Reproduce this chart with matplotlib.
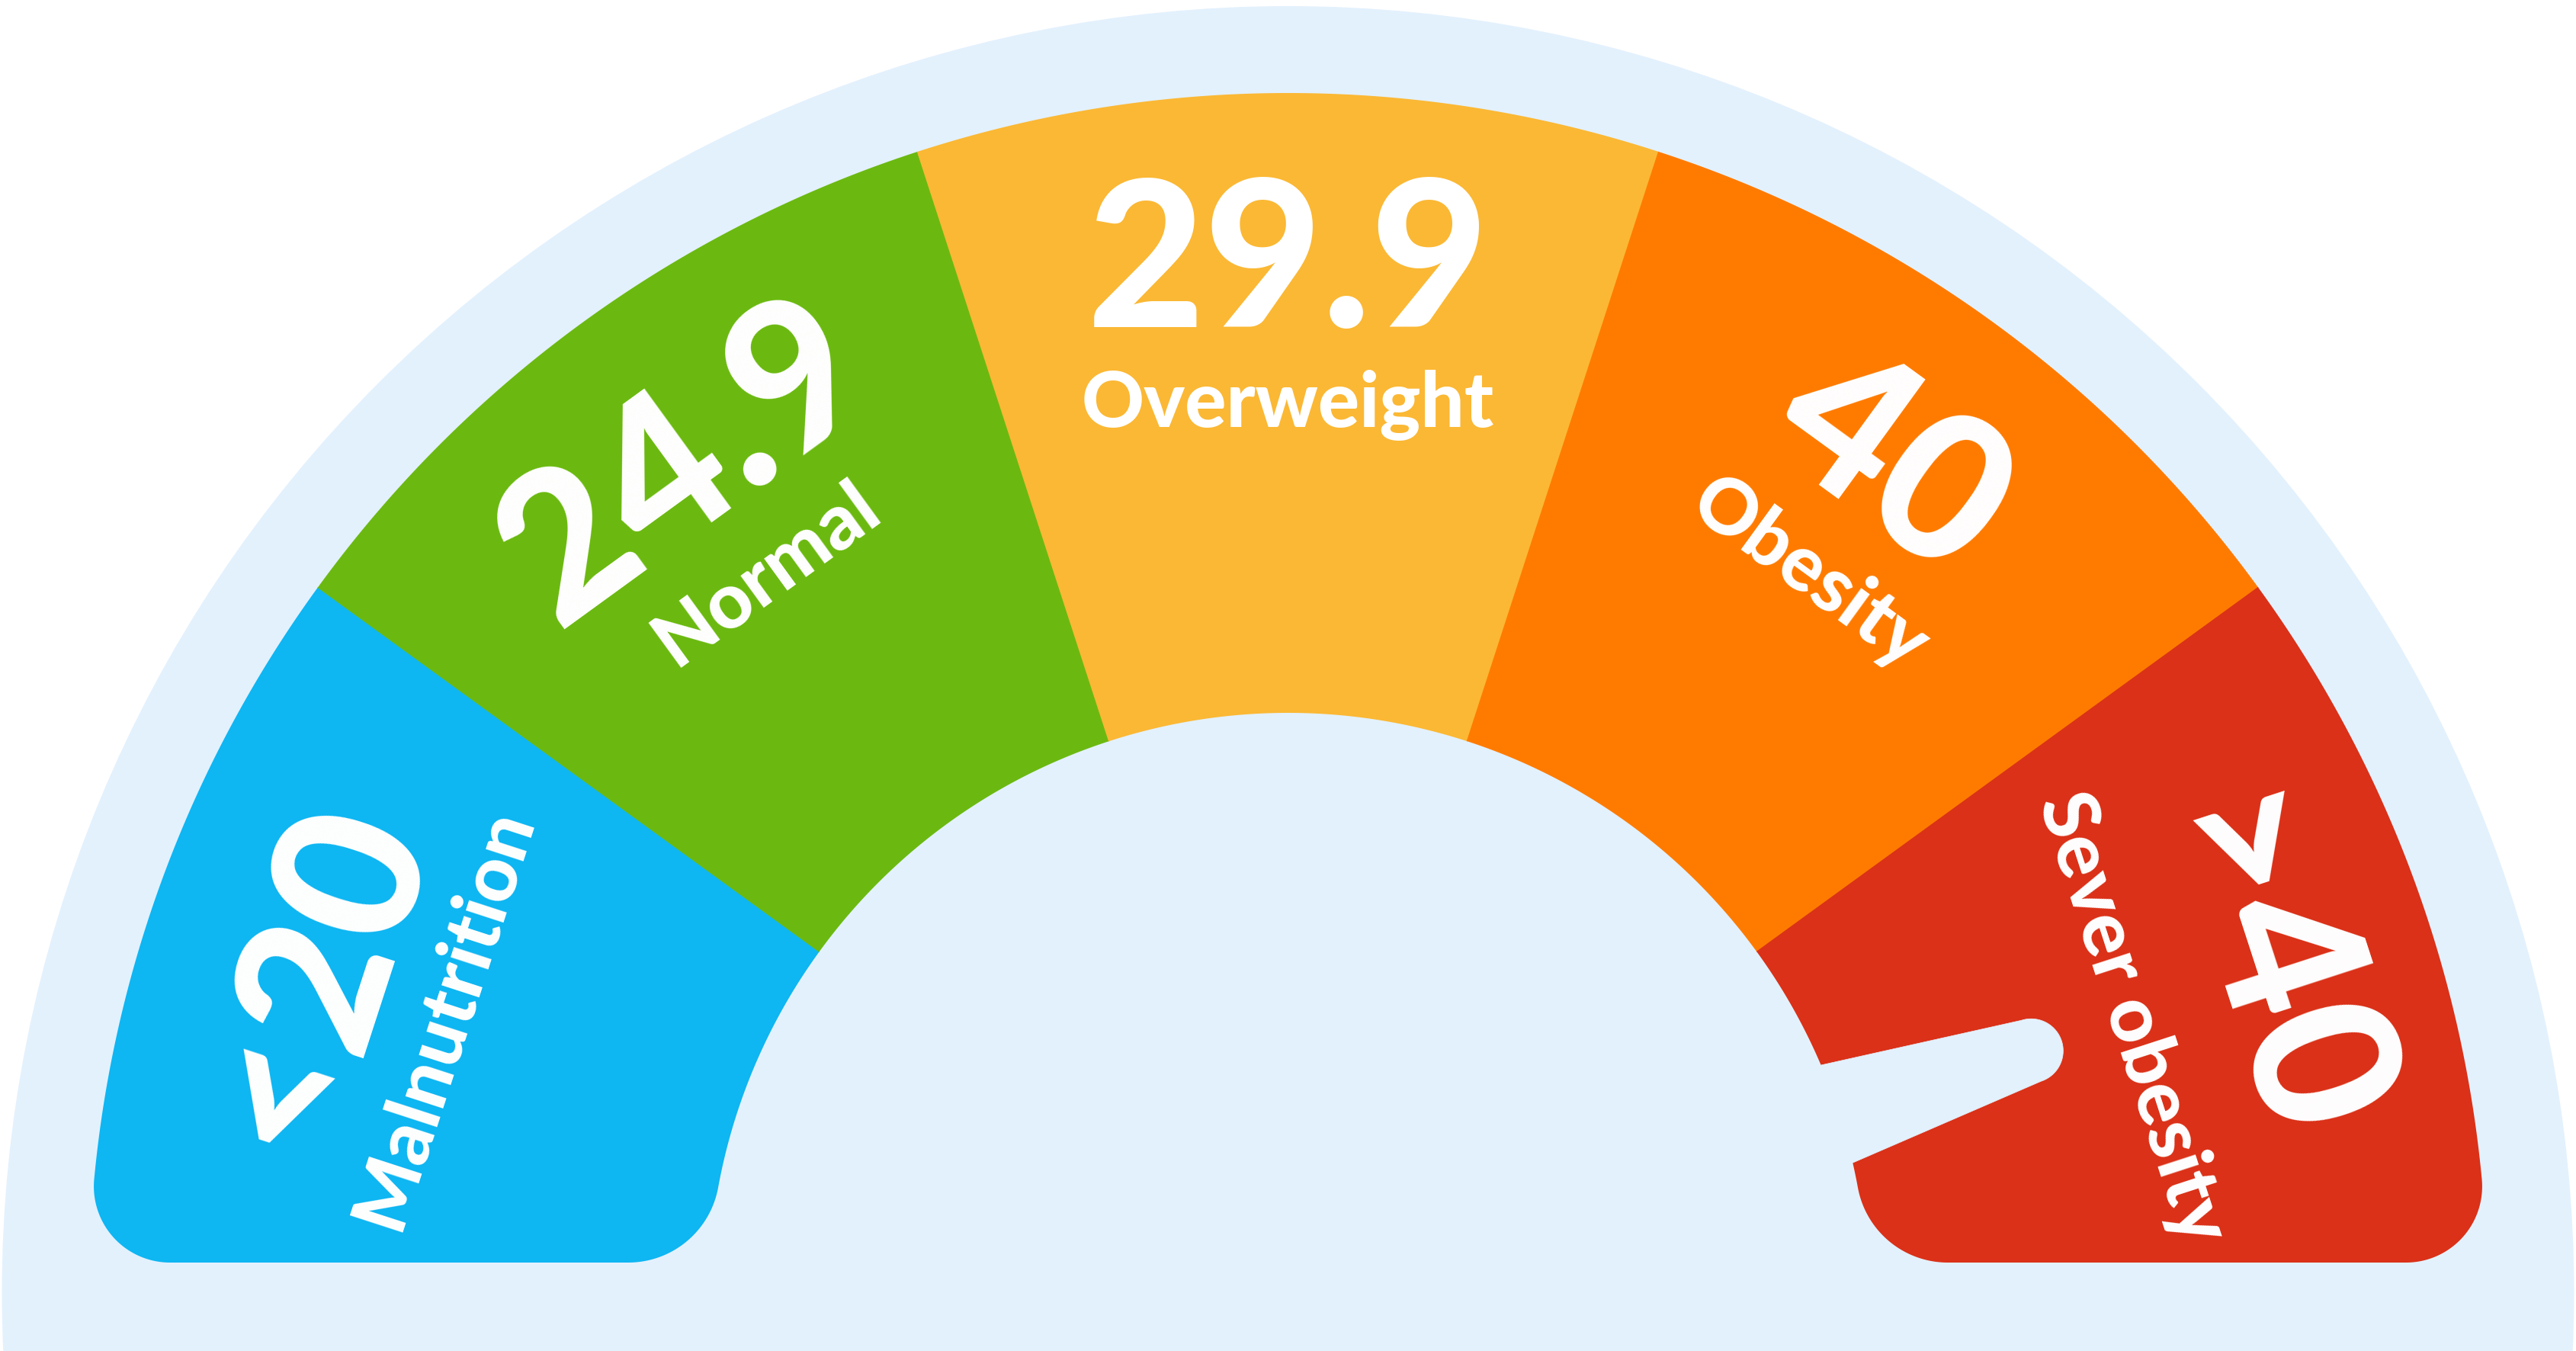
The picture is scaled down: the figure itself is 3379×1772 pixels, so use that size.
import numpy as np
import matplotlib
matplotlib.use("Agg")
import matplotlib.pyplot as plt
from matplotlib.patches import Wedge, PathPatch, Circle, Polygon
from matplotlib.path import Path

# ---------------- data ----------------
categories = ["Malnutrition", "Normal", "Overweight", "Obesity", "Sever obesity"]
thresholds = ["<20", "24.9", "29.9", "40", ">40"]
segment_sizes = [1, 1, 1, 1, 1]
segment_colors = ["#0EB6F2", "#6BB910", "#FBB834", "#FF7B00", "#DA3118"]
needle_position = 4.5   # in segment units (0 .. 5): centre of "Sever obesity"

# ---------------- style / geometry ----------------
W, H = 3379, 1772
BG = "#E3F1FD"
cx, cy = 1689.5, 77.0
R_bg, R_out, R_in = 1687, 1573, 760
h_cut = 39
rf_out, rf_in = 100, 120
FONT = ["Lato", "DejaVu Sans"]

fig = plt.figure(figsize=(W / 100, H / 100), dpi=100)
ax = fig.add_axes([0, 0, 1, 1])
ax.set_xlim(0, W)
ax.set_ylim(0, H)
ax.axis("off")
fig.patch.set_facecolor("white")

ax.add_patch(Circle((cx, cy), R_bg, fc=BG, ec="none", zorder=1))


def arc(xc, yc, r, a0, a1, n=80):
    t = np.radians(np.linspace(a0, a1, n))
    return list(zip(xc + r * np.cos(t), yc + r * np.sin(t)))


xo = np.sqrt((R_out - rf_out) ** 2 - (h_cut + rf_out) ** 2)
yo = h_cut + rf_out
xi = np.sqrt((R_in + rf_in) ** 2 - (h_cut + rf_in) ** 2)
yi = h_cut + rf_in
phi_o = np.degrees(np.arctan2(yo, xo))
phi_i = np.degrees(np.arctan2(yi, xi))

verts = [(xi, h_cut)]
verts += arc(xo, yo, rf_out, -90, phi_o)
verts += arc(0, 0, R_out, phi_o, 180 - phi_o, 600)
verts += arc(-xo, yo, rf_out, 180 - phi_o, 270)
verts += arc(-xi, yi, rf_in, -90, -phi_i)
verts += arc(0, 0, R_in, 180 - phi_i, phi_i, 400)
verts += arc(xi, yi, rf_in, 180 + phi_i, 270)
verts = np.array(verts) + np.array([cx, cy])
ring_path = Path(np.vstack([verts, verts[:1]]), closed=True)
ring_patch = PathPatch(ring_path, fc="none", ec="none", transform=ax.transData)
ax.add_patch(ring_patch)

total = float(sum(segment_sizes))
cum = np.concatenate([[0], np.cumsum(segment_sizes)])
theta = 180.0 - 180.0 * cum / total   # boundaries in degrees

for i, (lab, thr, col) in enumerate(zip(categories, thresholds, segment_colors)):
    t_hi, t_lo = theta[i], theta[i + 1]
    w_hi = 200 if i == 0 else t_hi
    w_lo = -20 if i == len(categories) - 1 else t_lo
    wdg = Wedge((cx, cy), R_out + 40, w_lo, w_hi, width=R_out - R_in + 80,
                fc=col, ec=col, lw=0.8, zorder=2)
    ax.add_patch(wdg)
    wdg.set_clip_path(ring_patch)

    mid = np.radians((t_hi + t_lo) / 2)
    rot = np.degrees(mid) - 90
    r_num, r_lab = 1266, 1135
    ax.text(cx + r_num * np.cos(mid), cy + r_num * np.sin(mid), thr,
            rotation=rot, rotation_mode="anchor", ha="center", va="baseline",
            color="white", fontsize=192, fontweight="black", family=FONT, zorder=5)
    ax.text(cx + r_lab * np.cos(mid), cy + r_lab * np.sin(mid), lab,
            rotation=rot, rotation_mode="anchor", ha="center", va="baseline",
            color="white", fontsize=73, fontweight="black", family=FONT, zorder=5)

# ---------------- needle ----------------
a = np.radians(180.0 - 180.0 * needle_position / total)
u = np.array([np.cos(a), np.sin(a)])
nrm = np.array([-np.sin(a), np.cos(a)])
c = np.array([cx, cy])
L, w0, w1 = 1025, 139, 42
tip = c + L * u
pts = [c + w0 * nrm, tip + w1 * nrm]
pts += arc(tip[0], tip[1], w1, np.degrees(a) + 90, np.degrees(a) - 90, 60)
pts += [tip - w1 * nrm, c - w0 * nrm]
ax.add_patch(Polygon(pts, closed=True, fc=BG, ec=BG, lw=0.5, zorder=3))

fig.savefig("out.png", dpi=100, facecolor="white")
